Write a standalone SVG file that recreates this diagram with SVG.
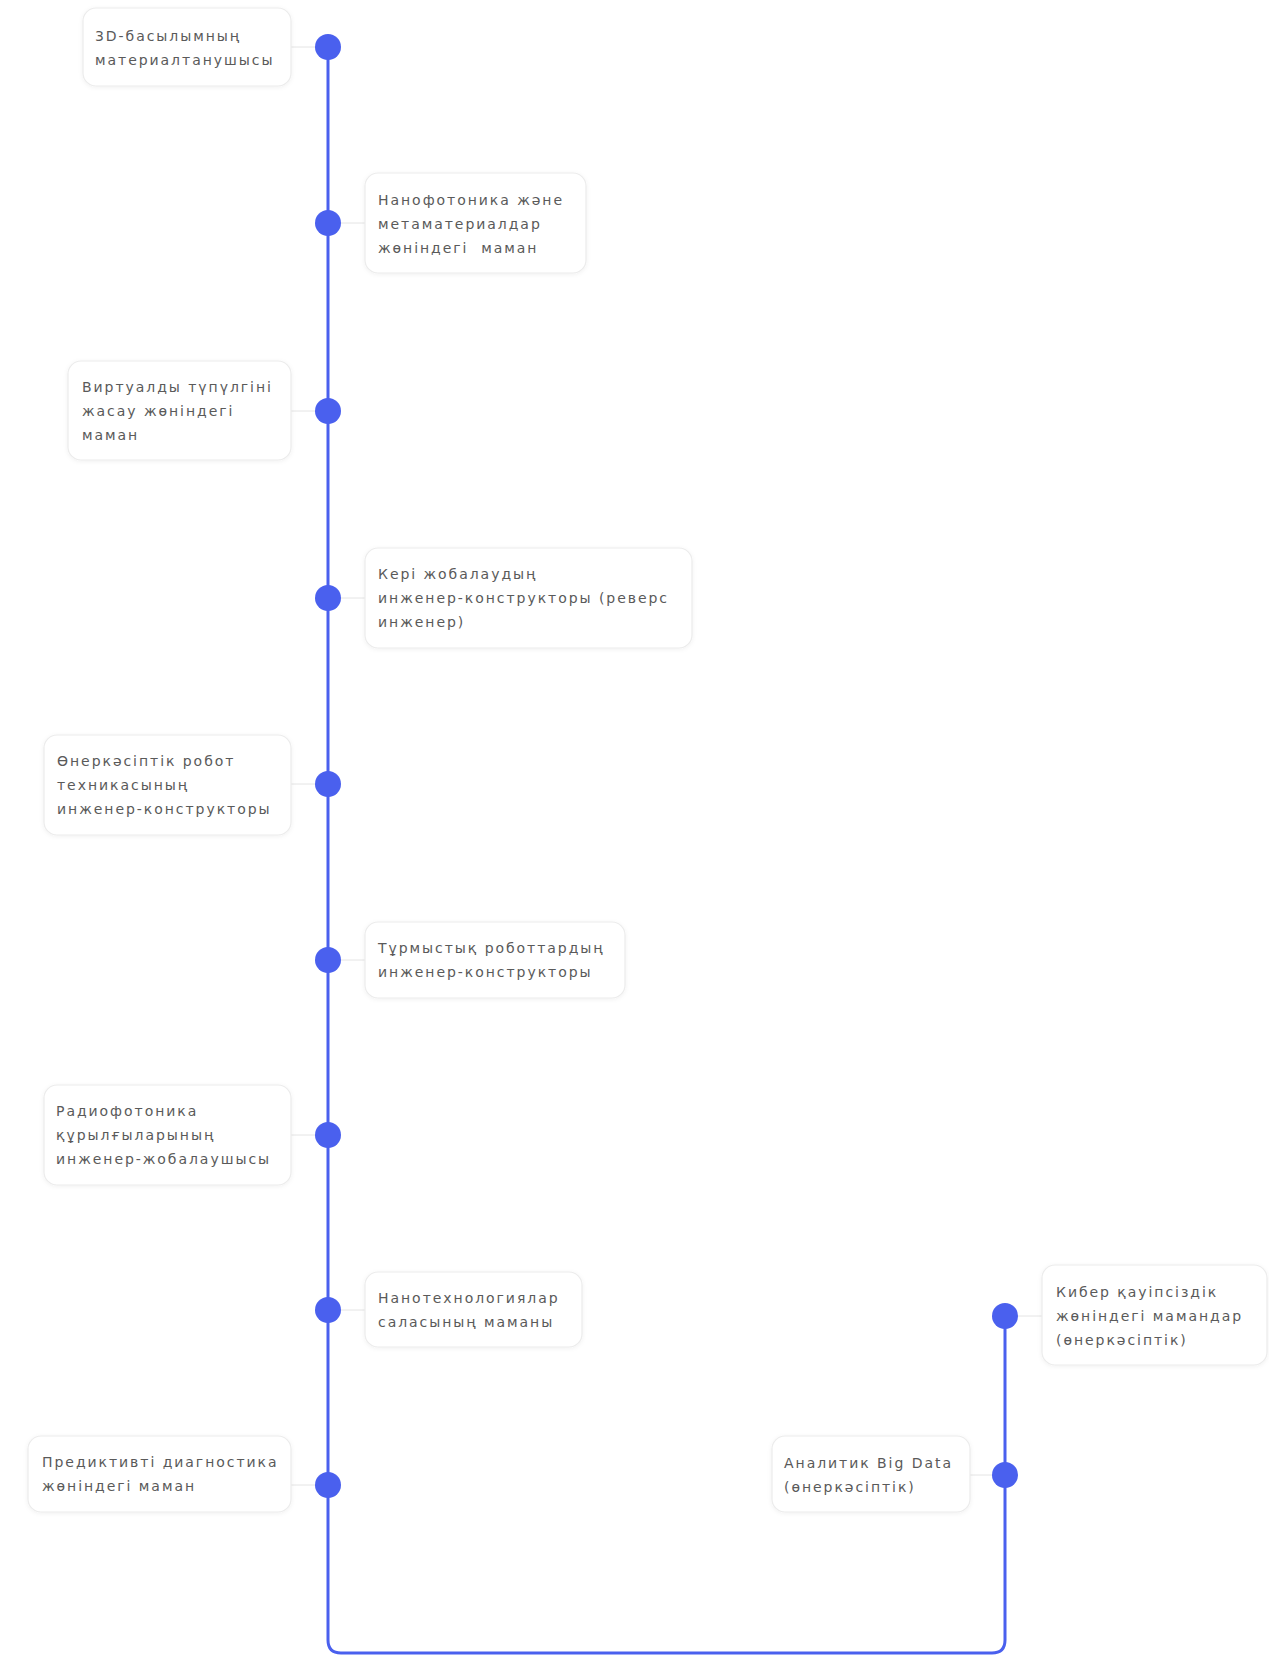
<svg xmlns="http://www.w3.org/2000/svg" width="1269" height="1660" viewBox="0 0 1269 1660">
<defs>
<filter id="sh" x="-10%" y="-20%" width="120%" height="140%">
<feDropShadow dx="0" dy="1" stdDeviation="2" flood-color="#000" flood-opacity="0.06"/>
</filter>
<style>
.box{fill:#fff;stroke:#ececec;stroke-width:1.2;filter:url(#sh)}
.t{font-family:"DejaVu Sans","Noto Sans",sans-serif;font-size:14px;fill:#5a5a5a;letter-spacing:1.95px;white-space:pre}
.dot{fill:#4a60ee}
.ln{fill:none;stroke:#4a60ee;stroke-width:3}
.tick{stroke:#e4e4e4;stroke-width:1}
</style>
</defs>
<rect width="1269" height="1660" fill="#fff"/>
<g id="connectors">
<path class="ln" d="M328 47 V1640 Q328 1653 341 1653 H992 Q1005 1653 1005 1640 V1316"/>
<line class="tick" x1="291" y1="47" x2="315" y2="47"/>
<line class="tick" x1="341" y1="223" x2="365" y2="223"/>
<line class="tick" x1="291" y1="411" x2="315" y2="411"/>
<line class="tick" x1="341" y1="598" x2="365" y2="598"/>
<line class="tick" x1="291" y1="784" x2="315" y2="784"/>
<line class="tick" x1="341" y1="960" x2="365" y2="960"/>
<line class="tick" x1="291" y1="1135" x2="315" y2="1135"/>
<line class="tick" x1="341" y1="1310" x2="365" y2="1310"/>
<line class="tick" x1="291" y1="1485" x2="315" y2="1485"/>
<line class="tick" x1="1018" y1="1316" x2="1042" y2="1316"/>
<line class="tick" x1="970" y1="1475" x2="992" y2="1475"/>
</g>
<g id="n1">
<rect class="box" x="83" y="8" width="208" height="78" rx="13"/>
<text class="t" x="95" y="41">3D-басылымның</text>
<text class="t" x="95" y="65">материалтанушысы</text>
<circle class="dot" cx="328" cy="47" r="13"/>
</g>
<g id="n2">
<rect class="box" x="365" y="173" width="221" height="100" rx="13"/>
<text class="t" x="378" y="205">Нанофотоника және</text>
<text class="t" x="378" y="229">метаматериалдар</text>
<text class="t" x="378" y="253">жөніндегі  маман</text>
<circle class="dot" cx="328" cy="223" r="13"/>
</g>
<g id="n3">
<rect class="box" x="68" y="361" width="223" height="99" rx="13"/>
<text class="t" x="82" y="392">Виртуалды түпүлгіні</text>
<text class="t" x="82" y="416">жасау жөніндегі</text>
<text class="t" x="82" y="440">маман</text>
<circle class="dot" cx="328" cy="411" r="13"/>
</g>
<g id="n4">
<rect class="box" x="365" y="548" width="327" height="100" rx="13"/>
<text class="t" x="378" y="579">Кері жобалаудың</text>
<text class="t" x="378" y="603">инженер-конструкторы (реверс</text>
<text class="t" x="378" y="627">инженер)</text>
<circle class="dot" cx="328" cy="598" r="13"/>
</g>
<g id="n5">
<rect class="box" x="44" y="735" width="247" height="100" rx="13"/>
<text class="t" x="57" y="766">Өнеркәсіптік робот</text>
<text class="t" x="57" y="790">техникасының</text>
<text class="t" x="57" y="814">инженер-конструкторы</text>
<circle class="dot" cx="328" cy="784" r="13"/>
</g>
<g id="n6">
<rect class="box" x="365" y="922" width="260" height="76" rx="13"/>
<text class="t" x="378" y="953">Тұрмыстық роботтардың</text>
<text class="t" x="378" y="977">инженер-конструкторы</text>
<circle class="dot" cx="328" cy="960" r="13"/>
</g>
<g id="n7">
<rect class="box" x="44" y="1085" width="247" height="100" rx="13"/>
<text class="t" x="56" y="1116">Радиофотоника</text>
<text class="t" x="56" y="1140">құрылғыларының</text>
<text class="t" x="56" y="1164">инженер-жобалаушысы</text>
<circle class="dot" cx="328" cy="1135" r="13"/>
</g>
<g id="n8">
<rect class="box" x="365" y="1272" width="217" height="75" rx="13"/>
<text class="t" x="378" y="1303">Нанотехнологиялар</text>
<text class="t" x="378" y="1327">саласының маманы</text>
<circle class="dot" cx="328" cy="1310" r="13"/>
</g>
<g id="n9">
<rect class="box" x="28" y="1436" width="263" height="76" rx="13"/>
<text class="t" x="42" y="1467">Предиктивті диагностика</text>
<text class="t" x="42" y="1491">жөніндегі маман</text>
<circle class="dot" cx="328" cy="1485" r="13"/>
</g>
<g id="n10">
<rect class="box" x="1042" y="1265" width="225" height="100" rx="13"/>
<text class="t" x="1056" y="1297">Кибер қауіпсіздік</text>
<text class="t" x="1056" y="1321">жөніндегі мамандар</text>
<text class="t" x="1056" y="1345">(өнеркәсіптік)</text>
<circle class="dot" cx="1005" cy="1316" r="13"/>
</g>
<g id="n11">
<rect class="box" x="772" y="1436" width="198" height="76" rx="13"/>
<text class="t" x="784" y="1468">Аналитик Big Data</text>
<text class="t" x="784" y="1492">(өнеркәсіптік)</text>
<circle class="dot" cx="1005" cy="1475" r="13"/>
</g>
</svg>
